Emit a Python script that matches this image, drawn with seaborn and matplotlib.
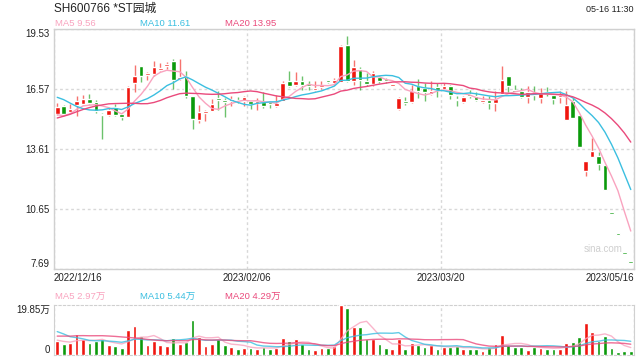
import numpy as np
import pandas as pd
import matplotlib
matplotlib.use("Agg")
import matplotlib.pyplot as plt
import seaborn as sns

# daily OHLC (90 sessions, 2022/12/16 .. 2023/05/16)
open_ = [15.34, 15.75, 15.43, 15.79, 15.85, 16.09, 15.93, 15.35, 15.27, 15.68,
         15.35, 15.17, 16.87, 17.69, 17.25, 17.33, 17.49, 17.72, 17.97, 17.06,
         17.23, 16.21, 15.06, 15.40, 15.47, 16.05, 15.97, 15.97, 16.04, 15.99,
         15.96, 15.88, 15.93, 15.88, 15.71, 15.96, 16.95, 16.78, 16.95, 16.81,
         16.52, 16.68, 16.97, 16.86, 16.91, 18.76, 16.98, 17.55, 16.98, 16.83,
         17.16, 17.06, 16.73, 15.60, 15.93, 15.91, 16.70, 16.62, 16.34, 16.65,
         16.59, 16.73, 16.08, 15.93, 16.32, 16.21, 15.93, 16.01, 15.88, 16.32,
         17.23, 16.50, 16.45, 16.16, 16.37, 16.12, 16.37, 16.26, 16.16, 15.06,
         15.96, 15.30, 12.51, 13.20, 13.25, 12.80, 10.40, 9.37, 8.44, 8.00]
high = [15.88, 15.80, 15.85, 16.24, 16.27, 16.34, 16.01, 15.38, 15.63, 15.83,
        15.38, 16.70, 17.77, 17.72, 17.41, 17.97, 17.85, 17.90, 18.06, 18.05,
        17.44, 16.21, 15.80, 15.55, 16.08, 16.45, 16.12, 16.21, 16.20, 16.24,
        15.99, 16.12, 16.40, 15.93, 16.29, 16.98, 17.44, 17.39, 17.23, 16.98,
        16.95, 16.95, 17.03, 17.11, 18.76, 19.17, 18.02, 17.64, 17.36, 17.47,
        17.19, 17.11, 16.80, 16.18, 16.16, 16.78, 17.06, 16.86, 16.95, 16.86,
        16.86, 16.78, 16.21, 16.24, 16.50, 16.40, 16.24, 16.21, 16.45, 17.69,
        17.23, 16.78, 16.62, 16.70, 16.70, 16.62, 16.65, 16.34, 16.45, 16.49,
        16.12, 15.30, 13.00, 14.15, 13.45, 12.80, 10.40, 9.37, 8.44, 8.00]
low = [15.30, 15.33, 15.39, 15.22, 15.80, 15.85, 15.39, 14.10, 15.22, 15.22,
       15.06, 15.17, 16.41, 16.93, 16.99, 17.23, 17.44, 17.55, 16.59, 17.00,
       16.12, 14.61, 14.89, 14.97, 15.47, 15.55, 15.19, 15.75, 15.88, 15.75,
       15.58, 15.55, 15.63, 15.63, 15.68, 15.96, 16.67, 16.73, 16.54, 16.50,
       16.45, 16.57, 16.86, 16.78, 16.91, 16.90, 16.78, 16.53, 16.73, 16.70,
       16.86, 16.86, 16.70, 15.55, 15.80, 15.88, 16.12, 15.96, 16.29, 16.20,
       16.59, 16.08, 15.71, 15.88, 16.12, 15.96, 15.88, 15.58, 15.47, 16.32,
       16.40, 16.37, 16.12, 15.88, 16.04, 15.88, 16.21, 15.84, 15.88, 15.06,
       15.14, 13.69, 12.29, 13.20, 12.59, 11.57, 10.40, 9.37, 8.44, 8.00]
close = [15.68, 15.35, 15.60, 15.96, 16.08, 15.88, 15.47, 15.27, 15.55, 15.27,
         15.17, 16.65, 17.23, 17.19, 17.28, 17.65, 17.60, 17.75, 16.99, 17.14,
         16.24, 15.11, 15.42, 15.43, 15.85, 16.02, 15.94, 16.00, 15.96, 16.16,
         15.84, 15.99, 15.75, 15.84, 15.88, 16.86, 16.70, 16.98, 16.78, 16.70,
         16.55, 16.71, 16.93, 17.03, 18.71, 16.95, 17.65, 17.03, 16.83, 17.36,
         16.98, 16.98, 16.76, 16.12, 15.90, 16.45, 16.49, 16.40, 16.49, 16.54,
         16.70, 16.29, 16.01, 16.18, 16.21, 16.04, 15.96, 15.88, 16.08, 17.03,
         16.72, 16.43, 16.18, 16.42, 16.27, 16.37, 16.35, 16.10, 16.26, 15.80,
         15.16, 13.73, 13.00, 13.53, 12.87, 11.60, 10.40, 9.37, 8.44, 8.00]
# volume in 万手
volume = [5.56, 4.50, 4.63, 8.33, 6.22, 4.90, 5.42, 6.22, 3.97, 3.57,
          2.78, 9.92, 11.51, 7.54, 3.97, 5.69, 3.97, 3.57, 6.75, 4.50,
          5.16, 13.89, 7.14, 3.57, 4.50, 6.22, 4.10, 3.18, 2.51, 2.91,
          2.91, 2.51, 3.18, 2.51, 2.91, 6.62, 5.56, 6.35, 4.37, 2.38,
          1.98, 2.91, 2.91, 3.57, 19.85, 18.65, 11.11, 11.11, 6.22, 6.22,
          4.37, 2.78, 2.38, 6.22, 2.38, 4.90, 3.97, 3.18, 3.97, 2.38,
          3.18, 3.18, 3.57, 2.38, 2.38, 2.38, 1.59, 3.18, 4.37, 7.94,
          4.09, 3.30, 3.30, 2.10, 3.30, 2.90, 2.50, 2.50, 2.50, 4.89,
          5.16, 7.14, 12.56, 9.13, 5.56, 7.54, 2.78, 1.32, 1.59, 1.62]

# sessions before the window, only needed to start the moving averages
prior_close = [13.6, 13.7, 13.5, 13.8, 14.0, 13.9, 14.2, 14.5, 15.0, 15.0,
               16.5, 17.3, 17.6, 17.2, 16.5, 15.6, 15.1, 14.9, 15.22]
prior_vol = [4.5, 5.0, 4.8, 5.5, 6.0, 5.2, 6.0, 6.5, 6.5, 7.0,
             14.0, 15.5, 12.0, 11.0, 11.0, 7.0, 6.0, 5.5, 5.4]

date_ticks = [-0.5, 29.5, 59.5, 89.5]
date_labels = ["2022/12/16", "2023/02/06", "2023/03/20", "2023/05/16"]
price_ticks = [7.69, 10.65, 13.61, 16.57, 19.53]

UP, DOWN = "#f0160f", "#0a9a0a"
C5, C10, C20 = "#f9a3bf", "#3bbfe0", "#ea4a7c"

sns.set_style("white")
plt.rcParams["font.family"] = ["Liberation Sans", "Noto Sans CJK SC"]

df = pd.DataFrame({"open": open_, "high": high, "low": low, "close": close, "vol": volume})
n = len(df)
df["x"] = np.arange(n)
prev = pd.Series(prior_close[-1:] + close[:-1])
df["up"] = (df["close"] > df["open"]) | ((df["close"] == df["open"]) & (df["close"] >= prev))

cs = pd.Series(prior_close + close)
vs = pd.Series(prior_vol + volume)
for w in (5, 10, 20):
    df[f"ma{w}"] = cs.rolling(w).mean().iloc[-n:].values
    df[f"vma{w}"] = vs.rolling(w).mean().iloc[-n:].values

fig = plt.figure(figsize=(6.4, 3.6), dpi=100)
ax = fig.add_axes([54 / 640, 1 - 269 / 360, 580 / 640, 240 / 360])
axv = fig.add_axes([54 / 640, 1 - 355 / 360, 580 / 640, 50 / 360])

# candles
colors = np.where(df["up"], UP, DOWN)
ax.vlines(df["x"], df["low"], df["high"], colors=colors, lw=1, alpha=0.6, zorder=2)
body = (df["close"] - df["open"]).abs().clip(lower=0.09)
ax.bar(df["x"], body, bottom=df[["open", "close"]].min(axis=1), width=0.72,
       color=colors, zorder=3)

for w, c in ((5, C5), (10, C10), (20, C20)):
    sns.lineplot(x=df["x"], y=df[f"ma{w}"], ax=ax, color=c, lw=1, zorder=4)
    sns.lineplot(x=df["x"], y=df[f"vma{w}"], ax=axv, color=c, lw=1, alpha=0.8, zorder=4)

ax.set_xlim(-0.5, n - 0.5)
ax.set_ylim(price_ticks[0], price_ticks[-1])
ax.set_yticks(price_ticks)
ax.set_yticklabels([f"{t:.2f}" for t in price_ticks])
ax.get_yticklabels()[0].set_va("bottom")
ax.get_yticklabels()[-1].set_va("top")
ax.set_xticks(date_ticks)
ax.set_xticklabels(date_labels)
xl = ax.get_xticklabels()
xl[0].set_ha("left")
xl[-1].set_ha("right")
ax.tick_params(length=0, labelsize=7, colors="#222222", pad=3)
ax.grid(True, color="#d8d8d8", linestyle=(0, (2, 2)), lw=1)
ax.set_xlabel("")
ax.set_ylabel("")
for s in ax.spines.values():
    s.set_color("#d0d0d0")
    s.set_linewidth(1)

# volume
axv.bar(df["x"], df["vol"], width=0.6, color=colors, zorder=3)
axv.set_xlim(-0.5, n - 0.5)
axv.set_ylim(0, 19.85)
axv.set_yticks([0, 19.85])
axv.set_yticklabels(["0", "19.85万"])
axv.get_yticklabels()[0].set_va("bottom")
axv.get_yticklabels()[1].set_va("top")
axv.set_xticks(date_ticks)
axv.set_xticklabels([])
axv.tick_params(length=0, labelsize=7, colors="#222222", pad=3)
axv.grid(True, axis="x", color="#d8d8d8", linestyle=(0, (2, 2)), lw=1)
axv.set_xlabel("")
axv.set_ylabel("")
for k, s in axv.spines.items():
    s.set_color("#d0d0d0")
    if k in ("top", "bottom"):
        s.set_linestyle((0, (2, 2)))

# header texts
fig.text(54 / 640, 1 - 9 / 360, "SH600766 *ST园城", fontsize=8.5, color="#222222", va="center")
fig.text(634 / 640, 1 - 9 / 360, "05-16 11:30", fontsize=6.5, color="#222222",
         va="center", ha="right")
last = df.iloc[-1]
for xp, lab, val, c in ((55, "MA5", last["ma5"], C5), (140, "MA10", last["ma10"], C10),
                        (225, "MA20", last["ma20"], C20)):
    fig.text(xp / 640, 1 - 24 / 360, f"{lab} {val:.2f}", fontsize=6.8, color=c, va="center")
for xp, lab, val, c in ((55, "MA5", last["vma5"], C5), (140, "MA10", last["vma10"], C10),
                        (225, "MA20", last["vma20"], C20)):
    fig.text(xp / 640, 1 - 296 / 360, f"{lab} {val:.2f}万", fontsize=6.8, color=c, va="center")
fig.text(603 / 640, 1 - 249 / 360, "sina.com", fontsize=7, color="#cfcfcf",
         ha="center", va="center")

fig.savefig("out.png", dpi=100)
